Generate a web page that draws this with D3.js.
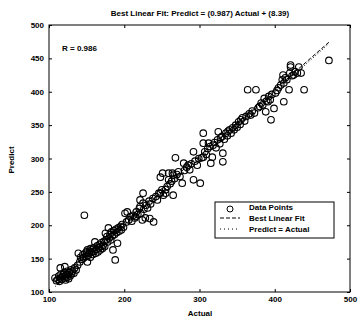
<!DOCTYPE html>
<html><head><meta charset="utf-8">
<script src="https://cdn.jsdelivr.net/npm/d3@7"></script>
<style>body{margin:0;background:#fff}svg{display:block}text{font-family:"Liberation Sans",Arial,sans-serif;font-weight:bold;fill:#000}</style>
</head><body>
<script>
const titleText = "Best Linear Fit:  Predict = (0.987) Actual + (8.39)";
const rText = "R = 0.986";
const xTicks = [100, 200, 300, 400, 500];
const yTicks = [100, 150, 200, 250, 300, 350, 400, 450, 500];
const fitSlope = 0.987, fitIntercept = 8.39;
const legendLabels = ["Data Points", "Best Linear Fit", "Predict = Actual"];
const actual = [108,110,112,113,114,115,115,116,117,118,119,120,120,121,122,122,123,124,124,125,126,127,128,129,130,131,133,134,136,138,
139,141,142,144,145,146,147,148,149,150,151,151,152,153,154,155,155,156,157,158,159,160,161,162,163,164,165,166,167,168,169,170,171,172,173,174,175,
176,177,178,179,180,181,182,183,184,185,186,187,188,189,190,191,192,193,195,196,197,199,
201,203,204,206,208,210,212,214,215,216,218,220,221,221,222,224,225,225,226,228,229,231,233,235,234,238,239,
242,244,246,248,248,250,251,252,255,255,257,259,259,261,263,264,265,265,267,268,270,272,274,277,279,280,283,285,287,289,292,292,294,297,299,301,
303,305,305,305,307,309,311,312,314,315,317,318,320,322,324,325,327,328,330,331,331,333,335,337,338,340,342,344,346,348,350,
352,354,355,357,360,362,364,366,368,370,373,375,378,380,382,384,386,388,389,391,392,394,395,396,399,
401,403,405,408,410,411,412,412,414,416,419,420,421,421,423,425,427,430,432,435,439,472];
const predict = [121,117,119,124,116,136,121,127,119,123,126,121,129,138,124,118,127,122,131,126,120,129,124,133,127,131,128,136,133,140,
158,145,152,149,156,151,215,158,153,160,163,145,155,158,161,152,165,159,163,156,166,161,175,158,164,169,160,166,171,163,168,174,165,170,176,168,188,
178,183,175,196,181,186,178,190,184,163,192,186,148,194,189,173,196,191,198,193,201,197,
218,205,220,208,213,206,215,211,213,220,216,225,228,238,218,208,233,248,224,211,230,226,236,232,210,240,205,
243,238,248,248,272,253,278,245,253,248,258,268,278,262,266,278,245,275,270,301,276,280,273,263,293,282,287,290,283,292,268,310,296,290,300,263,
301,323,338,302,310,306,315,323,318,293,302,320,324,316,328,340,322,331,333,295,308,329,338,334,341,343,338,346,343,350,347,
355,351,358,361,356,363,403,367,365,371,368,403,376,378,383,380,390,370,386,385,393,388,358,396,375,
398,402,406,410,418,425,413,385,421,418,403,428,437,440,424,425,430,428,437,428,403,447];

const W = 361, H = 322;
const m = {left: 49, right: 350, top: 25, bottom: 292};
const svg = d3.select("body").append("svg").attr("width", W).attr("height", H);
const x = d3.scaleLinear().domain([100, 500]).range([m.left, m.right]);
const y = d3.scaleLinear().domain([100, 500]).range([m.bottom, m.top]);

// frame
svg.append("rect").attr("x", m.left).attr("y", m.top).attr("width", m.right - m.left).attr("height", m.bottom - m.top)
  .attr("fill", "none").attr("stroke", "#000").attr("stroke-width", 1);

const fs = 8;
const gxb = svg.append("g").attr("transform", `translate(0,${m.bottom})`)
  .call(d3.axisBottom(x).tickValues(xTicks).tickSize(-3).tickPadding(4));
const gxt = svg.append("g").attr("transform", `translate(0,${m.top})`)
  .call(d3.axisTop(x).tickValues(xTicks).tickSize(-3).tickFormat(""));
const gyl = svg.append("g").attr("transform", `translate(${m.left},0)`)
  .call(d3.axisLeft(y).tickValues(yTicks).tickSize(-3).tickPadding(5));
const gyr = svg.append("g").attr("transform", `translate(${m.right},0)`)
  .call(d3.axisRight(y).tickValues(yTicks).tickSize(-3).tickFormat(""));
[gxb, gxt, gyl, gyr].forEach(g => {
  g.select(".domain").remove();
  g.selectAll("line").attr("stroke", "#000");
  g.selectAll("text").style("font-size", fs + "px").style("font-family", '"Liberation Sans",Arial,sans-serif').style("font-weight", "bold");
});

// lines
const aMin = d3.min(actual), aMax = d3.max(actual);
svg.append("line").attr("x1", x(aMin)).attr("y1", y(fitSlope * aMin + fitIntercept))
  .attr("x2", x(aMax)).attr("y2", y(fitSlope * aMax + fitIntercept))
  .attr("stroke", "#000").attr("stroke-width", 1).attr("stroke-dasharray", "4,2");
svg.append("line").attr("x1", x(aMin)).attr("y1", y(aMin)).attr("x2", x(aMax)).attr("y2", y(aMax))
  .attr("stroke", "#000").attr("stroke-width", 1).attr("stroke-dasharray", "1,2");

// points
svg.append("g").selectAll("circle").data(actual.map((a, i) => [a, predict[i]])).join("circle")
  .attr("cx", d => x(d[0])).attr("cy", d => y(d[1])).attr("r", 3.3)
  .attr("fill", "none").attr("stroke", "#000").attr("stroke-width", 1.1);

// texts
svg.append("text").attr("x", 200).attr("y", 16).attr("text-anchor", "middle").style("font-size", "8px").text(titleText);
svg.append("text").attr("x", 62).attr("y", 51).style("font-size", "8px").text(rText);
svg.append("text").attr("x", 200).attr("y", 316).attr("text-anchor", "middle").style("font-size", "8px").text("Actual");
svg.append("text").attr("transform", "translate(14,160) rotate(-90)").attr("text-anchor", "middle").style("font-size", "8px").text("Predict");

// legend
const lg = svg.append("g");
lg.append("rect").attr("x", 215).attr("y", 202).attr("width", 119).attr("height", 36)
  .attr("fill", "#fff").attr("stroke", "#000").attr("stroke-width", 1);
const rows = [210, 221, 232];
lg.append("circle").attr("cx", 230).attr("cy", rows[0] - 1).attr("r", 3).attr("fill", "none").attr("stroke", "#000");
lg.append("line").attr("x1", 220).attr("x2", 240).attr("y1", rows[1] - 3).attr("y2", rows[1] - 3).attr("stroke", "#000").attr("stroke-dasharray", "4,2");
lg.append("line").attr("x1", 220).attr("x2", 240).attr("y1", rows[2] - 3).attr("y2", rows[2] - 3).attr("stroke", "#000").attr("stroke-dasharray", "1,3");
legendLabels.forEach((t, i) => lg.append("text").attr("x", 249).attr("y", rows[i]).style("font-size", "8px").text(t));
</script>
</body></html>
